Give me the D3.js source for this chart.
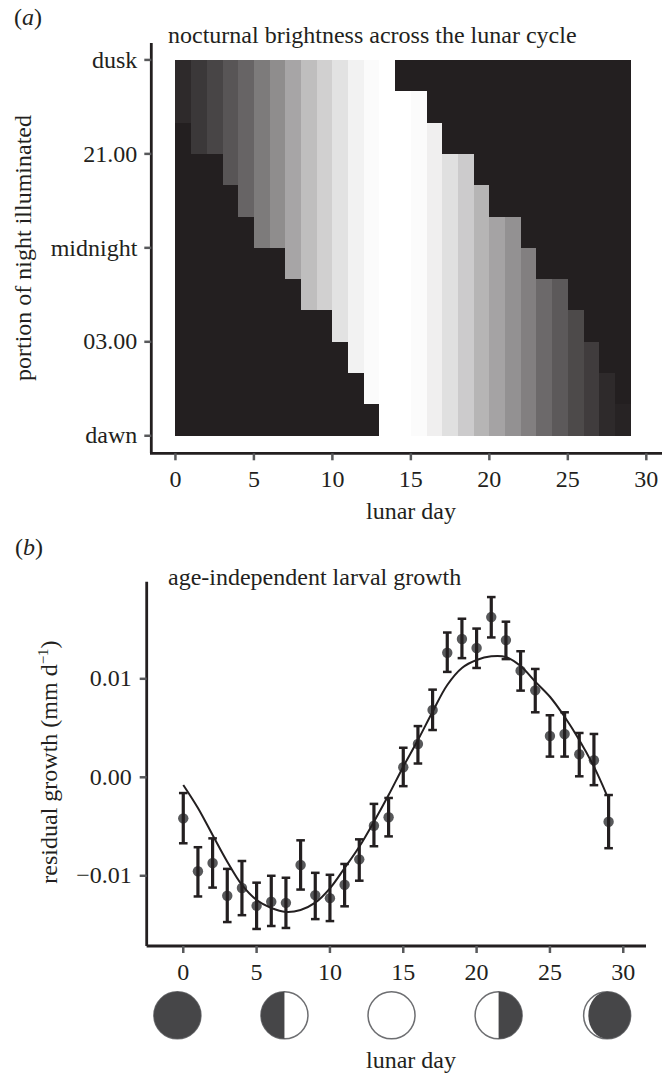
<!DOCTYPE html>
<html>
<head>
<meta charset="utf-8">
<script src="https://cdn.jsdelivr.net/npm/d3@7"></script>
<style>
  html, body { margin: 0; padding: 0; background: #fff; }
  svg { display: block; }
  text { font-family: "Liberation Serif", serif; fill: #231f20; font-size: 24px; }
  .tick text { font-size: 24px; }
  .tick line { stroke: #58595b; stroke-width: 2.5; }
  .domain { stroke: #231f20; stroke-width: 2.8; fill: none; }
</style>
</head>
<body>
<div id="chart"></div>
<script>
// panel a: one entry per lunar day column (0-28)
var nightDays = [0,1,2,3,4,5,6,7,8,9,10,11,12,13,14,15,16,17,18,19,20,21,22,23,24,25,26,27,28];
var brightness = [5,11,17,24,31,41,49,60,71,79,87,94,98,100,100,98,93,86,77,67,59,51,43,33,26,19,13,5,2];
var litFromRow = [0,0,0,0,0,0,0,0,0,0,0,0,0,0,1,1,2,3,3,4,5,5,6,7,7,8,9,10,11];
var litToRow = [2,3,3,4,5,6,6,7,8,8,9,10,11,12,12,12,12,12,12,12,12,12,12,12,12,12,12,12,12];
var nightTickRows = [0,3,6,9,12];
var nightTickLabels = ["dusk","21.00","midnight","03.00","dawn"];
var dayTicks = [0,5,10,15,20,25,30];

// panel b
var growthDays = [0,1,2,3,4,5,6,7,8,9,10,11,12,13,14,15,16,17,18,19,20,21,22,23,24,25,26,27,28,29];
var growthMean = [-0.00417,-0.00954,-0.0087,-0.01203,-0.01124,-0.01305,-0.01264,-0.01275,-0.00891,-0.01196,-0.01227,-0.01091,-0.00833,-0.00492,-0.00406,0.00102,0.00338,0.00683,0.01265,0.01404,0.01313,0.01627,0.01393,0.01083,0.00883,0.00419,0.0044,0.00234,0.00173,-0.00451];
var growthHigh = [-0.0016,-0.0071,-0.0062,-0.0093,-0.0085,-0.0107,-0.01,-0.0102,-0.0064,-0.0097,-0.0099,-0.0088,-0.0063,-0.0027,-0.0021,0.003,0.0052,0.0089,0.0147,0.0161,0.0151,0.0183,0.0158,0.0128,0.011,0.0063,0.0066,0.0045,0.0044,-0.0018];
var growthLow = [-0.0067,-0.0121,-0.0112,-0.0147,-0.014,-0.0154,-0.0151,-0.0153,-0.0114,-0.0144,-0.0146,-0.0131,-0.0105,-0.007,-0.006,-0.0009,0.0014,0.0048,0.0107,0.0121,0.0111,0.0142,0.012,0.0088,0.0066,0.0021,0.0021,0.0001,-0.0008,-0.0072];
var fitDays = [0,1,2,3,4,5,6,7,8,9,10,11,12,13,14,15,16,17,18,19,20,21,22,23,24,25,26,27,28,28.85];
var fitValues = [-0.00078,-0.00312,-0.00586,-0.00857,-0.01093,-0.01246,-0.01327,-0.01367,-0.01347,-0.01273,-0.01127,-0.00921,-0.00705,-0.00451,-0.0018,0.00108,0.00379,0.00666,0.00937,0.0111,0.01191,0.01228,0.01221,0.0113,0.00971,0.00818,0.00615,0.00379,0.00108,-0.0017];
var growthTicks = [-0.01,0,0.01];
var growthTickLabels = ["\u22120.01","0.00","0.01"];

// moon phases under panel b: how far the dark part reaches each side (0-1)
var moonDays = [-0.4,6.9,14.2,21.5,28.9];
var moonDarkLeft = [1,1,0,0,0.8];
var moonDarkRight = [1,0,0,1,1];

var width = 662
var height = 1075

var svg = d3.select("#chart")
  .append("svg")
  .attr("width", width)
  .attr("height", height)

// ---------- panel a ----------
var xA = d3.scaleLinear().domain([-1.62, 31]).range([150, 662]);
var yA = d3.scaleLinear().domain([-0.54, 12.56]).range([43, 453.3]);
var grey = d3.scaleLinear().domain([0, 100]).range(["#231f20", "#ffffff"]);

var panelA = svg.append("g");

panelA.append("rect")
  .attr("x", xA(0))
  .attr("y", yA(0))
  .attr("width", xA(29) - xA(0))
  .attr("height", yA(12) - yA(0))
  .attr("fill", "#231f20")
  .attr("shape-rendering", "crispEdges");

panelA.selectAll(".col")
  .data(nightDays)
  .enter().append("rect")
  .attr("class", "col")
  .attr("x", d => xA(d))
  .attr("width", d => xA(d + 1) - xA(d))
  .attr("y", (d, i) => yA(litFromRow[i]))
  .attr("height", (d, i) => yA(litToRow[i]) - yA(litFromRow[i]))
  .attr("fill", (d, i) => grey(brightness[i]))
  .attr("shape-rendering", "crispEdges");

panelA.append("g")
  .attr("transform", "translate(0,453.3)")
  .call(d3.axisBottom(xA).tickValues(dayTicks).tickSize(7).tickSizeOuter(0).tickPadding(10).offset(0));

panelA.append("g")
  .attr("transform", "translate(151.3,0)")
  .call(d3.axisLeft(yA).tickValues(nightTickRows).tickSize(7).tickSizeOuter(0).tickPadding(7).offset(0)
    .tickFormat((d, i) => nightTickLabels[i]));

panelA.append("text")
  .attr("x", 168).attr("y", 43)
  .text("nocturnal brightness across the lunar cycle");

panelA.append("text")
  .attr("x", 411).attr("y", 519)
  .attr("text-anchor", "middle")
  .text("lunar day");

panelA.append("text")
  .attr("transform", "translate(31,248) rotate(-90)")
  .attr("text-anchor", "middle")
  .text("portion of night illuminated");

var labelA = panelA.append("text").attr("x", 14).attr("y", 25);
labelA.append("tspan").text("(");
labelA.append("tspan").attr("font-style", "italic").text("a");
labelA.append("tspan").text(")");

// ---------- panel b ----------
var xB = d3.scaleLinear().domain([-2.5, 31.55]).range([146.6, 646]);
var yB = d3.scaleLinear().domain([-0.01713, 0.01986]).range([946, 581.7]);

var panelB = svg.append("g");

panelB.append("g")
  .attr("transform", "translate(0,946)")
  .call(d3.axisBottom(xB).tickValues(dayTicks).tickSize(7).tickSizeOuter(0).tickPadding(10).offset(0));

panelB.append("g")
  .attr("transform", "translate(146.7,0)")
  .call(d3.axisLeft(yB).tickValues(growthTicks).tickSize(7).tickSizeOuter(0).tickPadding(8).offset(0)
    .tickFormat((d, i) => growthTickLabels[i]));

panelB.selectAll(".dot")
  .data(growthDays)
  .enter().append("circle")
  .attr("class", "dot")
  .attr("cx", d => xB(d))
  .attr("cy", (d, i) => yB(growthMean[i]))
  .attr("r", 5.2)
  .attr("fill", "#58595b");

var fitLine = d3.line()
  .x(d => xB(d))
  .y((d, i) => yB(fitValues[i]))
  .curve(d3.curveCatmullRom);

panelB.append("path")
  .datum(fitDays)
  .attr("d", fitLine)
  .attr("fill", "none")
  .attr("stroke", "#231f20")
  .attr("stroke-width", 2);

var bars = panelB.selectAll(".bar")
  .data(growthDays)
  .enter().append("g")
  .attr("class", "bar")
  .attr("stroke", "#231f20")
  .attr("stroke-width", 3.2);

bars.append("line")
  .attr("x1", d => xB(d)).attr("x2", d => xB(d))
  .attr("y1", (d, i) => yB(growthHigh[i]))
  .attr("y2", (d, i) => yB(growthLow[i]));
bars.append("line")
  .attr("x1", d => xB(d) - 4.3).attr("x2", d => xB(d) + 4.3)
  .attr("y1", (d, i) => yB(growthHigh[i]))
  .attr("y2", (d, i) => yB(growthHigh[i]))
  .attr("stroke-width", 2.5);
bars.append("line")
  .attr("x1", d => xB(d) - 4.3).attr("x2", d => xB(d) + 4.3)
  .attr("y1", (d, i) => yB(growthLow[i]))
  .attr("y2", (d, i) => yB(growthLow[i]))
  .attr("stroke-width", 2.5);

// moons
var moonY = 1015.3;
var moonR = 23.5;

var moons = panelB.selectAll(".moon")
  .data(moonDays)
  .enter().append("g")
  .attr("class", "moon")
  .attr("transform", d => "translate(" + xB(d) + "," + moonY + ")");

moons.append("circle")
  .attr("r", moonR)
  .attr("fill", "#fff")
  .attr("stroke", "#6d6e71")
  .attr("stroke-width", 1.5);

moons.append("path")
  .attr("fill", "#464648")
  .attr("d", (d, i) => {
    var rx = moonR * moonDarkRight[i];
    var lx = moonR * moonDarkLeft[i];
    if (rx === 0 && lx === 0) return null;
    return "M0," + (-moonR) + "A" + rx + "," + moonR + " 0 0 1 0," + moonR
      + "A" + lx + "," + moonR + " 0 0 1 0," + (-moonR) + "Z";
  });

panelB.append("text")
  .attr("x", 168).attr("y", 585)
  .text("age-independent larval growth");

panelB.append("text")
  .attr("x", 411).attr("y", 1068)
  .attr("text-anchor", "middle")
  .text("lunar day");

var labelY = panelB.append("text")
  .attr("transform", "translate(57,762) rotate(-90)")
  .attr("text-anchor", "middle");
labelY.append("tspan").text("residual growth (mm d");
labelY.append("tspan").attr("dy", -9).attr("font-size", 15).text("\u22121");
labelY.append("tspan").attr("dy", 9).text(")");

var labelB = panelB.append("text").attr("x", 15).attr("y", 555);
labelB.append("tspan").text("(");
labelB.append("tspan").attr("font-style", "italic").text("b");
labelB.append("tspan").text(")");
</script>
</body>
</html>
